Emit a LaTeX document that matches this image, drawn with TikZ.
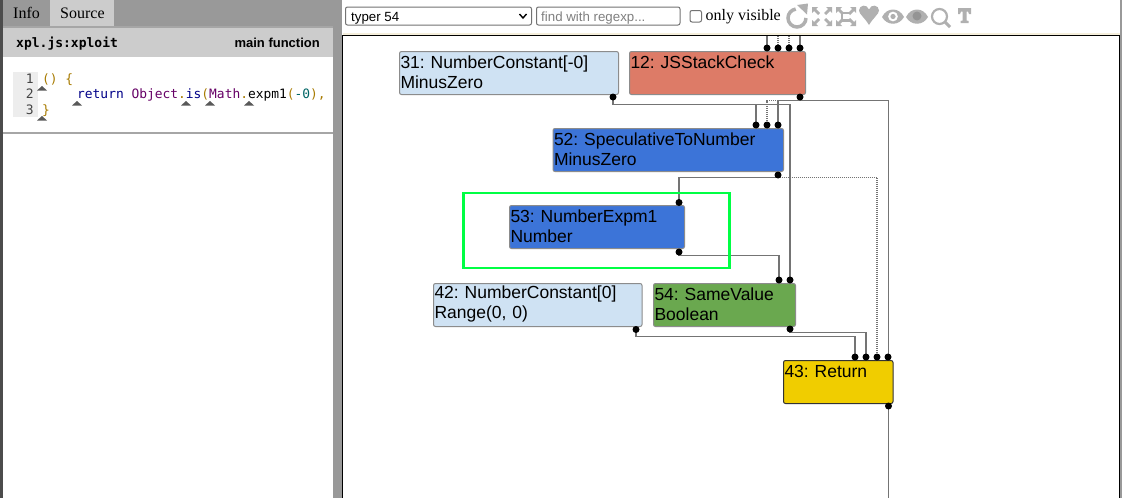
\documentclass[tikz,border=0pt]{standalone}
\usepackage{fontspec}
\setmainfont{Liberation Sans}
\newfontfamily\serifui{Liberation Serif}
\newfontfamily\codefont{DejaVu Sans Mono}
\pgfdeclarelayer{pins}
\pgfsetlayers{main,pins}
\definecolor{barA}{HTML}{999999}
\definecolor{barB}{HTML}{CCCCCC}
\definecolor{lblue}{HTML}{CFE2F3}
\definecolor{dblue}{HTML}{3C74D8}
\definecolor{nred}{HTML}{DD7B67}
\definecolor{ngreen}{HTML}{6AA84F}
\definecolor{nyellow}{HTML}{F0CD00}
\definecolor{edgec}{HTML}{747474}
\definecolor{icong}{HTML}{B0B0B0}
\definecolor{cpun}{HTML}{A87B00}
\definecolor{ckwd}{HTML}{000088}
\definecolor{ctyp}{HTML}{660066}
\definecolor{clit}{HTML}{006666}
\definecolor{cnum}{HTML}{444444}
\definecolor{selgreen}{HTML}{00FF44}
\definecolor{beige}{HTML}{F5EFDC}
\tikzset{
  x=1pt,y=-1pt,
  irnode/.style={draw=#1,line width=1pt,rounded corners=2pt,anchor=north west,inner sep=0pt,
     font=\fontsize{17.5}{20}\selectfont,align=left,text=black},
  pin/.style={circle,fill=black,inner sep=0pt,minimum size=7pt},
  edge/.style={draw=edgec,line width=1.3pt},
  ctledge/.style={draw=edgec,line width=1.2pt,dash pattern=on 1pt off 1pt},
  uitab/.style={font=\serifui\fontsize{16}{18}\selectfont,anchor=base west,inner sep=0pt},
  code/.style={font=\codefont\fontsize{12.9}{15}\selectfont,anchor=base west,inner sep=0pt},
  linenum/.style={font=\codefont\fontsize{13}{15}\selectfont,anchor=base east,inner sep=0pt,text=cnum},
  srcpos/.style={fill=black!65,draw=none},
  uibox/.style={draw=black!55,line width=1pt,rounded corners=2pt,fill=white},
  icon/.style={draw=icong,line width=2pt},
  iconf/.style={fill=icong,draw=none},
}
\newcommand{\irbox}[8]{%
  \node[irnode=#8,fill=#7,minimum width=#4 pt,minimum height=#5 pt,text width=#4 pt - 2pt] (#1) at (#2,#3) {#6\par\vspace*{2pt}};}
\newcommand{\cornerarrow}[4]{% tip x, tip y, dx, dy
  \fill[iconf] (#1,#2) -- ++(#3*6,0) -- ++(#3*-2,#4*2) -- ++(#3*4,#4*4) -- ++(#3*-2,#4*2) -- ++(#3*-4,#4*-4) -- ++(#3*-2,#4*2) -- cycle;}
\begin{document}
\frenchspacing
\begin{tikzpicture}
\useasboundingbox (0,0) rectangle (1122,498);
\fill[white] (0,0) rectangle (1122,498);
% left panel
\fill[barA] (0,0) rectangle (333,26);
\fill[black!70] (0,0) rectangle (3,498);
\fill[barB] (50,0) rectangle (114,26);
\fill[black!35] (3,26) rectangle (333,28);
\fill[barB] (3,28) rectangle (333,57);
\fill[black!35] (3,132) rectangle (333,134);
\fill[barA] (333,0) rectangle (342,498);
\fill[barA] (1120,0) rectangle (1122,498);
\fill[black] (342,35) rectangle (343.3,498);
\node[uitab] (tabinfo) at (13,18) {Info};
\node[uitab] (tabsource) at (60,18) {Source};
\node[font=\codefont\bfseries\fontsize{13}{15}\selectfont,anchor=base west,inner sep=0pt] (scriptname) at (16,47) {xpl.js:xploit};
\node[font=\bfseries\fontsize{13}{15}\selectfont,anchor=base east,inner sep=0pt] (funcname) at (320,47) {main function};
\fill[black!7] (13,72) rectangle (38,117);
\node[linenum] (ln1) at (34,83.5) {1};
\node[linenum] (ln2) at (34,98.5) {2};
\node[linenum] (ln3) at (34,114.5) {3};
\node[code] (code1) at (42,83.5) {\textcolor{cpun}{() \{}};
\node[code] (code2) at (77,98.5) {\textcolor{ckwd}{return} \textcolor{ctyp}{Object}\textcolor{cpun}{.}\textcolor{ckwd}{is}\textcolor{cpun}{(}\textcolor{ctyp}{Math}\textcolor{cpun}{.}expm1\textcolor{cpun}{(}\textcolor{clit}{-0}\textcolor{cpun}{),}};
\node[code] (code3) at (42,114.5) {\textcolor{cpun}{\}}};
\foreach \px/\py in {42/86,77/101,186/101,210/101,249/101,42/116}
  \fill[srcpos] (\px-5,\py+4.5) -- (\px,\py) -- (\px+5,\py+4.5) -- cycle;
% toolbar
\draw[uibox] (345.5,7) rectangle (531.5,25);
\node[font=\fontsize{13.3}{15}\selectfont,anchor=base west,inner sep=0pt] (phase) at (351,21) {typer 54};
\draw[black,line width=1.4pt] (519.5,14) -- (523,18) -- (526.5,14);
\draw[uibox] (536.5,7) rectangle (680,25);
\node[font=\fontsize{13.3}{15}\selectfont,anchor=base west,inner sep=0pt,text=black!50] (search) at (541,21) {find with regexp...};
\draw[uibox] (690,10.5) rectangle (701.5,22);
\node[font=\serifui\fontsize{16}{18}\selectfont,anchor=base west,inner sep=0pt] (onlyvis) at (705.5,20) {only visible};
% icons
\draw[icon,line width=3.5pt] (806,18) arc[start angle=0,end angle=262,radius=9];
\fill[iconf] (797,5) -- (808,3.5) -- (807,14.5) -- cycle;
\begin{scope}[shift={(812,7)}]
  \cornerarrow{0}{0}{1}{1}
  \cornerarrow{20}{0}{-1}{1}
  \cornerarrow{0}{19}{1}{-1}
  \cornerarrow{20}{19}{-1}{-1}
\end{scope}
\begin{scope}[shift={(836,7)}]
  \cornerarrow{0}{0}{1}{1}
  \cornerarrow{20}{0}{-1}{1}
  \cornerarrow{0}{19}{1}{-1}
  \cornerarrow{20}{19}{-1}{-1}
  \draw[icon,line width=2.6pt] (15,6) -- (6,6) -- (6,13.5) -- (15,13.5);
\end{scope}
\fill[iconf] (869,25) .. controls (865,18) and (859,14) .. (859,10.5)
   .. controls (859,5) and (867,3.5) .. (869,9.5)
   .. controls (871,3.5) and (879,5) .. (879,10.5)
   .. controls (879,14) and (873,18) .. (869,25) -- cycle;
\fill[iconf,even odd rule] (882,17) .. controls (887,7) and (899,7) .. (904,17) .. controls (899,26) and (887,26) .. (882,17) -- cycle
   (893,16.5) circle[radius=5];
\fill[iconf] (893,16.5) circle[radius=2.6];
\fill[iconf] (906,17) .. controls (911,7) and (923,7) .. (928,17) .. controls (923,26) and (911,26) .. (906,17) -- cycle;
\fill[black!42] (917,16) circle[radius=4.5];
\draw[icon,line width=2.2pt] (939.5,16.5) circle[radius=7.5];
\draw[icon,line width=3pt] (945,22) -- (950,27);
\fill[iconf] (958,8) -- (971,8) -- (971,14) -- (969,14) -- (968,11.5) -- (966.5,11.5) -- (966.5,20.5) -- (968.5,21) -- (968.5,23) -- (960.5,23) -- (960.5,21) -- (962.5,20.5) -- (962.5,11.5) -- (961,11.5) -- (960,14) -- (958,14) -- cycle;
% graph frame
\fill[beige] (343,33) rectangle (1120,35);
\draw[black,line width=1.3pt] (342,35.6) -- (1119.3,35.6) -- (1119.3,498);
% graph nodes
\irbox{n31}{399}{51}{219}{43}{31: NumberConstant[-0]\\MinusZero}{lblue}{black!45}
\irbox{n12}{629}{51}{176}{43}{12: JSStackCheck\\~}{nred}{black!45}
\irbox{n52}{552.5}{128}{230.5}{43}{52: SpeculativeToNumber\\MinusZero}{dblue}{black!45}
\irbox{n53}{509}{205}{175}{43}{53: NumberExpm1\\Number}{dblue}{black!45}
\irbox{n42}{433}{283}{208.5}{43}{42: NumberConstant[0]\\Range(0, 0)}{lblue}{black!45}
\irbox{n54}{653}{283}{142}{43}{54: SameValue\\Boolean}{ngreen}{black!45}
\irbox{n43}{783}{360}{109.5}{43}{43: Return\\~}{nyellow}{black!80}
% pins
\begin{pgfonlayer}{pins}
\foreach \nm/\px/\py in {i12a/767/48,i12b/778/48,i12c/789/48,i12d/800/48,o31/613/97,o12/800/97,
  i52a/756/125,i52b/767/125,i52c/778/125,o52/778/175,i53/679/202.5,o53/679/252,
  i54a/779/280,i54b/790/280,o42/636/329.5,o54/790/329,
  i43a/855/357,i43b/866/357,i43c/877/357,i43d/888/357,o43/888.5/406}
  \node[pin] (\nm) at (\px,\py) {};
\end{pgfonlayer}
\coordinate (top1) at (767,36);
\coordinate (top2) at (778,36);
\coordinate (top3) at (789,36);
\coordinate (top4) at (800,36);
\coordinate (bottom) at (888.5,498);
% edges
\draw[edge] (top1) -- (i12a.center);
\draw[ctledge] (top2) -- (i12b.center);
\draw[ctledge] (top3) -- (i12c.center);
\draw[edge] (top4) -- (i12d.center);
\draw[edge] (o31.center) -- ++(0,7.5) -| (i52a.center);
\draw[edge] (o31.center) -- ++(0,7.5) -| (i54b.center);
\draw[edge] (o12.center) -- ++(0,3.5) -| (i52c.center);
\draw[ctledge] (o12.center) -- ++(0,3.5) -| (i52b.center);
\draw[edge,line width=1pt] (o12.center) -- ++(0,3.5) -| (i43d.center);
\draw[edge] (o52.center) -- ++(0,2.5) -| (i53.center);
\draw[ctledge] (o52.center) -- ++(0,2.5) -| (i43c.center);
\draw[edge] (o53.center) -- ++(0,3.5) -| (i54a.center);
\draw[edge] (o54.center) -- ++(0,3.5) -| (i43b.center);
\draw[edge] (o42.center) -- ++(0,7) -| (i43a.center);
\draw[edge] (o43.center) -- (bottom);
% selection
\draw[selgreen,line width=2.6pt] (463.7,193) rectangle (729.5,268);
\end{tikzpicture}
\end{document}
